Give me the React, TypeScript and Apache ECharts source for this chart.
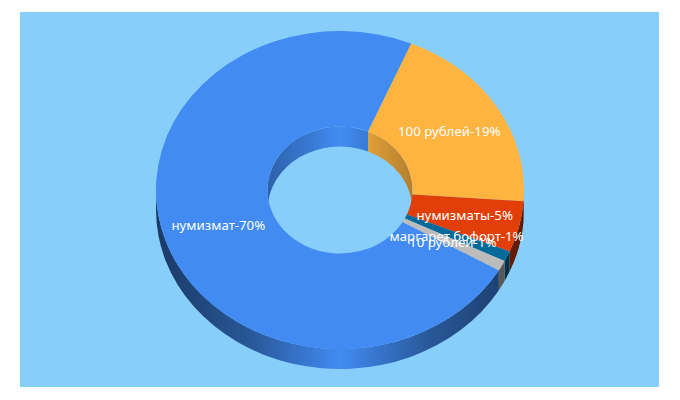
import React, { useEffect, useRef } from "react";
import * as echarts from "echarts";

const categories = ["нумизмат", "100 рублей", "нумизматы", "маргарет бофорт", "10 рублей"];
const values = [70, 19, 5, 1, 1];
const sliceColors = ["#418bf2", "#ffb440", "#e23e07", "#056a9a", "#bcbcbc"];
const startAngle = 120.3;

const BG = "#87cefa";
const cx = 340;
const cy = 190;
const outerRx = 184;
const outerRy = 159;
const innerRx = 72.5;
const innerRy = 63.5;
const depth = 20;

const total = values.reduce((s, v) => s + v, 0);

function angles(i: number): [number, number] {
  let before = 0;
  for (let k = 0; k < i; k++) before += values[k];
  const a = startAngle + (before / total) * 360;
  return [a, a + (values[i] / total) * 360];
}

function pt(rx: number, ry: number, deg: number, dy = 0): string {
  const t = (deg * Math.PI) / 180;
  return `${(cx + rx * Math.sin(t)).toFixed(2)} ${(cy - ry * Math.cos(t) + dy).toFixed(2)}`;
}

function arc(rx: number, ry: number, from: number, to: number, dy = 0): string {
  const large = Math.abs(to - from) > 180 ? 1 : 0;
  const sweep = to > from ? 1 : 0;
  return `A ${rx} ${ry} 0 ${large} ${sweep} ${pt(rx, ry, to, dy)}`;
}

function shade(hex: string, f: number): string {
  const n = parseInt(hex.slice(1), 16);
  const c = [(n >> 16) & 255, (n >> 8) & 255, n & 255].map((v) => Math.round(v * f));
  return `rgb(${c[0]},${c[1]},${c[2]})`;
}

function clips(a: number, b: number, lo: number, hi: number): [number, number][] {
  const out: [number, number][] = [];
  for (let k = -1; k <= 2; k++) {
    const s = Math.max(a, lo + 360 * k);
    const e = Math.min(b, hi + 360 * k);
    if (e > s) out.push([s, e]);
  }
  return out;
}

function wallGradient(color: string, x0: number, x1: number, stops: [number, number][]) {
  return new echarts.graphic.LinearGradient(
    x0,
    0,
    x1,
    0,
    stops.map(([offset, f]) => ({ offset, color: shade(color, f) })),
    true
  );
}

const outerStops: [number, number][] = [
  [0, 0.42],
  [0.25, 0.62],
  [0.5, 1],
  [0.75, 0.62],
  [1, 0.42],
];
const innerStops: [number, number][] = [
  [0, 0.7],
  [0.5, 1],
  [1, 0.7],
];

function renderWalls(params: any) {
  const i = params.dataIndex;
  const [a, b] = angles(i);
  const children: any[] = [];
  clips(a, b, 270, 450).forEach(([s, e]) => {
    children.push({
      type: "path",
      shape: {
        pathData:
          `M ${pt(innerRx, innerRy, s)} ${arc(innerRx, innerRy, s, e)} ` +
          `L ${pt(innerRx, innerRy, e, depth)} ${arc(innerRx, innerRy, e, s, depth)} Z`,
      },
      style: { fill: wallGradient(sliceColors[i], cx - innerRx, cx + innerRx, innerStops) },
    });
  });
  clips(a, b, 90, 270).forEach(([s, e]) => {
    children.push({
      type: "path",
      shape: {
        pathData:
          `M ${pt(outerRx, outerRy, s)} ${arc(outerRx, outerRy, s, e)} ` +
          `L ${pt(outerRx, outerRy, e, depth)} ${arc(outerRx, outerRy, e, s, depth)} Z`,
      },
      style: { fill: wallGradient(sliceColors[i], cx - outerRx, cx + outerRx, outerStops) },
    });
  });
  return { type: "group", children };
}

function renderTops(params: any) {
  const i = params.dataIndex;
  const [a, b] = angles(i);
  return {
    type: "path",
    shape: {
      pathData:
        `M ${pt(outerRx, outerRy, a)} ${arc(outerRx, outerRy, a, b)} ` +
        `L ${pt(innerRx, innerRy, b)} ${arc(innerRx, innerRy, b, a)} Z`,
    },
    style: { fill: sliceColors[i] },
  };
}

function renderLabels(params: any, api: any) {
  const i = params.dataIndex;
  const [a, b] = angles(i);
  const mid = (((a + b) / 2) * Math.PI) / 180;
  const midRx = (outerRx + innerRx) / 2;
  const midRy = (outerRy + innerRy) / 2;
  return {
    type: "text",
    style: {
      text: `${categories[i]}-${api.value(0)}%`,
      x: cx + midRx * Math.sin(mid),
      y: cy - midRy * Math.cos(mid) - 0.5,
      fill: "#ffffff",
      font: '13.3px "Noto Sans"',
      align: "center",
      verticalAlign: "middle",
    },
  };
}

export default function App() {
  const ref = useRef<HTMLDivElement>(null);
  useEffect(() => {
    document.body.style.margin = "0";
    const chart = echarts.init(ref.current!, null, { renderer: "svg" });
    chart.setOption({
      animation: false,
      graphic: [
        {
          type: "rect",
          z: -1,
          shape: { x: 20, y: 12, width: 639, height: 375 },
          style: { fill: BG },
        },
      ],
      series: [
        { type: "custom", coordinateSystem: "none", z: 2, silent: true, data: values, renderItem: renderWalls },
        { type: "custom", coordinateSystem: "none", z: 3, silent: true, data: values, renderItem: renderTops },
        { type: "custom", coordinateSystem: "none", z: 4, silent: true, data: values, renderItem: renderLabels },
      ],
    });
    return () => chart.dispose();
  }, []);
  return <div ref={ref} style={{ width: 680, height: 400 }} />;
}
